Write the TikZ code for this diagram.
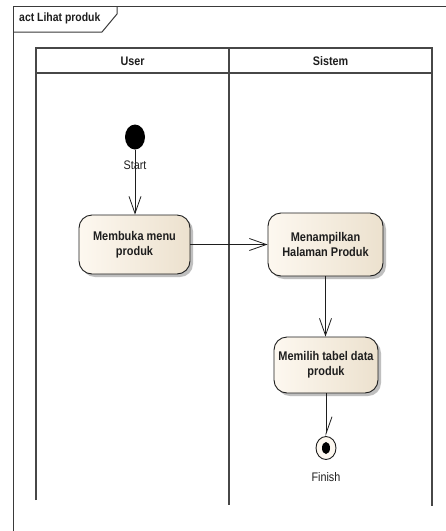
\documentclass[tikz,border=0pt]{standalone}
\usepackage{fontspec}
\setmainfont{Liberation Sans}[FakeStretch=0.87]
\usetikzlibrary{arrows.meta,shapes.geometric,shadows}

\definecolor{frameline}{HTML}{3A3A3A}
\definecolor{laneline}{HTML}{474747}
\definecolor{boxlight}{HTML}{FDF8F0}
\definecolor{boxdark}{HTML}{ECE1CE}
\definecolor{ink}{HTML}{1E1E1E}

\tikzset{
  actbox/.style={draw=ink, line width=0.9pt, rounded corners=13pt,
    left color=boxlight, right color=boxdark,
    drop shadow={shadow xshift=3pt, shadow yshift=-3pt, fill=black!45, opacity=0.55},
    align=center, font=\bfseries\fontsize{12.6}{15}\selectfont, text=ink, inner sep=2pt},
  flow/.style={draw=ink, line width=0.8pt, -{Straight Barb[length=17pt,width=12pt,line width=0.8pt]}},
  lane/.style={draw=laneline, line width=1.6pt},
  frame/.style={draw=frameline, line width=1pt},
  lbl/.style={font=\fontsize{12.4}{14}\selectfont, text=ink, inner sep=0pt}
}

\begin{document}
\begin{tikzpicture}[x=1pt, y=-1pt]
  \useasboundingbox (0,0) rectangle (446,531);
  \fill[white] (0,0) rectangle (446,531);

  % diagram frame with its name tab
  \draw[frame] (13,531) -- (13,6) -- (446,6);
  \draw[frame] (13,32) -- (102,32) -- (117,14) -- (117,6);
  \node[anchor=west, inner sep=0pt, font=\bfseries\fontsize{12}{13}\selectfont, text=ink]
    (frametitle) at (19,18) {act Lihat produk};

  % swimlanes
  \draw[lane] (36,500) -- (36,48) -- (432,48) -- (432,506);
  \draw[lane] (229,48) -- (229,505);
  \draw[lane] (36,73) -- (432,73);
  \node[font=\bfseries\fontsize{12.4}{14}\selectfont, text=ink] (userhead) at (132.5,61) {User};
  \node[font=\bfseries\fontsize{12.4}{14}\selectfont, text=ink] (syshead) at (330.5,61) {Sistem};

  % initial node
  \node[ellipse, fill=black, minimum width=20pt, minimum height=25pt, inner sep=0pt] (start) at (135,137) {};

  % actions
  \node[actbox, minimum width=111pt, minimum height=59pt] (b1) at (134.5,244.5) {Membuka menu\\produk};
  \node[actbox, minimum width=115pt, minimum height=63pt] (b2) at (325.5,244.5) {Menampilkan\\Halaman Produk};
  \node[actbox, minimum width=104pt, minimum height=56pt] (b3) at (326,365) {Memilih tabel data\\produk};

  % final node
  \node[ellipse, draw=ink, line width=0.9pt, fill=boxlight, minimum width=20pt, minimum height=23pt, inner sep=0pt] (fin) at (326,448) {};
  \node[ellipse, fill=black, minimum width=8pt, minimum height=12pt, inner sep=0pt] (findot) at (fin.center) {};

  % flows
  \draw[flow] (start.south) -- (start.south |- b1.north);
  \node[lbl] (startlbl) at (135,165) {Start};
  \draw[flow] (b1.east) -- (b2.west);
  \draw[flow] (b2.south) -- (b2.south |- b3.north);
  \draw[draw=ink, line width=0.8pt, -{Straight Barb[harpoon,length=17pt,width=12pt,line width=0.8pt]}] (b3.south) -- (fin.north);
  \node[lbl] (finlbl) at (326,477) {Finish};
\end{tikzpicture}
\end{document}
